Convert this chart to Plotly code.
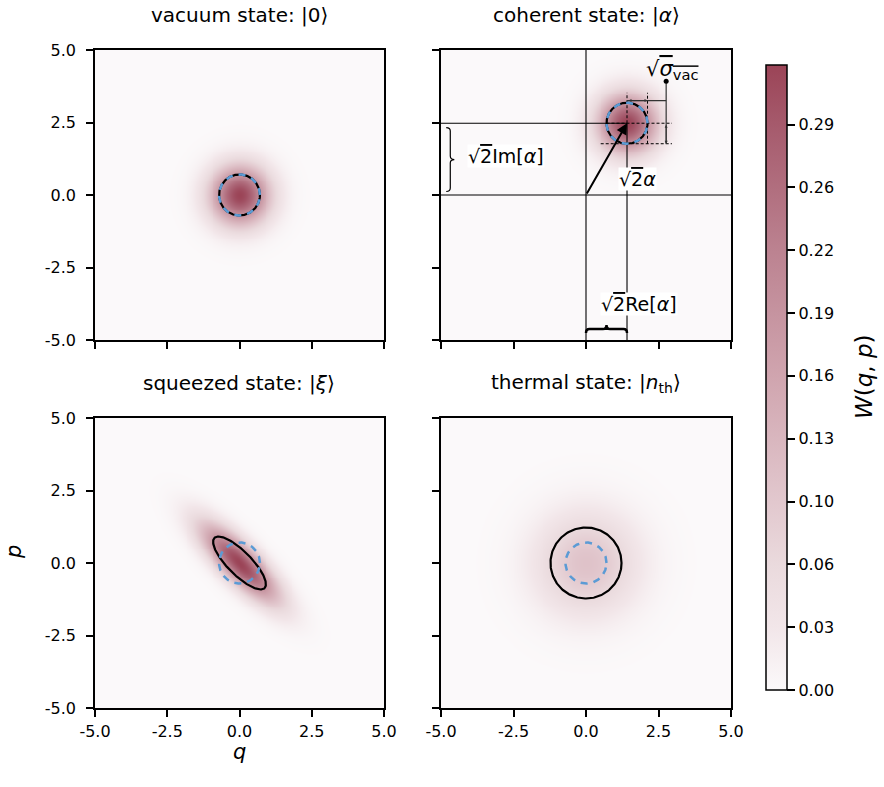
import numpy as np
import plotly.graph_objects as go

# ---------------- data ----------------
titles = ["vacuum state: |0⟩", "coherent state: |<i>α</i>⟩",
          "squeezed state: |<i>ξ</i>⟩", "thermal state: |<i>n</i><sub>th</sub>⟩"]
tick_vals = [-5.0, -2.5, 0.0, 2.5, 5.0]
tick_text = ["-5.0", "-2.5", "0.0", "2.5", "5.0"]
cbar_text = ["0.00", "0.03", "0.06", "0.10", "0.13", "0.16", "0.19", "0.22", "0.26", "0.29"]
cbar_step = 0.0320
w_max = 1 / np.pi

sigma_vac = 0.5          # vacuum variance
alpha_re, alpha_im = 1.0, 1.75   # coherent amplitude
squeeze_r = 0.55         # squeezing parameter
n_th = 1.0               # thermal occupation

# ---------------- fields ----------------
q = np.linspace(-5, 5, 301)
Q, P = np.meshgrid(q, q)
q0, p0 = np.sqrt(2) * alpha_re, np.sqrt(2) * alpha_im

W_vac = (1 / np.pi) * np.exp(-(Q**2 + P**2))
W_coh = (1 / np.pi) * np.exp(-((Q - q0)**2 + (P - p0)**2))
U = (Q - P) / np.sqrt(2)
V = (Q + P) / np.sqrt(2)
W_sq = (1 / np.pi) * np.exp(-U**2 * np.exp(-2 * squeeze_r) - V**2 * np.exp(2 * squeeze_r))
W_th = 1 / (np.pi * (2 * n_th + 1)) * np.exp(-(Q**2 + P**2) / (2 * n_th + 1))

fields = [W_vac, W_coh, W_sq, W_th]

FONT = "DejaVu Sans"
W, H = 884, 787
# panel pixel boxes (left, right, top, bottom)
boxes = [(95, 384, 50, 340), (441, 731, 50, 340), (95, 384, 418, 708), (441, 731, 418, 708)]

fig = go.Figure()
colorscale = [[0.0, "#fbf9fa"], [0.1, "#f2e6e9"], [0.2, "#eadadd"], [0.3, "#e2c8ce"],
              [0.5, "#d0a5af"], [0.7, "#bc8391"], [0.9, "#a65b6d"], [1.0, "#9b4457"]]

for i, Z in enumerate(fields):
    sfx = "" if i == 0 else str(i + 1)
    fig.add_trace(go.Heatmap(x=q, y=q, z=Z, coloraxis="coloraxis", zsmooth="best",
                             xaxis="x" + sfx, yaxis="y" + sfx, hoverinfo="skip"))

t = np.linspace(0, 2 * np.pi, 241)
rv = np.sqrt(sigma_vac)
BLUE = "#5b9bd5"


def circle(cx, cy, rx, ry=None, ang=0.0):
    ry = rx if ry is None else ry
    x = rx * np.cos(t)
    y = ry * np.sin(t)
    xr = cx + x * np.cos(ang) - y * np.sin(ang)
    yr = cy + x * np.sin(ang) + y * np.cos(ang)
    return xr, yr


def line_trace(x, y, ax, color="black", width=2, dash="solid"):
    sfx = "" if ax == 1 else str(ax)
    fig.add_trace(go.Scatter(x=x, y=y, mode="lines", xaxis="x" + sfx, yaxis="y" + sfx,
                             line=dict(color=color, width=width, dash=dash),
                             hoverinfo="skip", showlegend=False))


# vacuum
x, y = circle(0, 0, rv)
line_trace(x, y, 1, "black", 2.2)
line_trace(x, y, 1, BLUE, 2.5, "7px,6px")

# coherent: guide lines
ax2 = 2
line_trace([-5, 5], [0, 0], ax2, "black", 1.1)
line_trace([0, 0], [-5, 5], ax2, "black", 1.1)
line_trace([-5, q0], [p0, p0], ax2, "black", 1.1)
line_trace([q0, q0], [-5, p0], ax2, "black", 1.1)
xd = q0 + 1.55
line_trace([q0 - rv, xd], [p0, p0], ax2, "black", 1, "3px,2px")
line_trace([q0 - rv - 0.2, xd], [p0 - rv, p0 - rv], ax2, "black", 1, "3px,2px")
line_trace([q0, q0], [p0, p0 + 1.05], ax2, "black", 1, "3px,2px")
line_trace([q0 + rv, q0 + rv], [p0 - rv, p0 + 1.05], ax2, "black", 1, "3px,2px")
# dimension marks
xv = q0 + 1.35
yh = p0 + 0.78
line_trace([xv, xv], [p0 - rv, p0 + 1.45], ax2, "#333333", 1.2)
line_trace([q0, xv], [yh, yh], ax2, "#333333", 1.2)
fig.add_trace(go.Scatter(x=[xv], y=[p0 + 1.45], mode="markers", xaxis="x2", yaxis="y2",
                         marker=dict(color="black", size=5), hoverinfo="skip", showlegend=False))

x, y = circle(q0, p0, rv)
line_trace(x, y, ax2, "black", 2.2)
line_trace(x, y, ax2, BLUE, 2.5, "7px,6px")

# squeezed
x, y = circle(0, 0, rv * np.exp(squeeze_r), rv * np.exp(-squeeze_r), -np.pi / 4)
line_trace(x, y, 3, "black", 2.2)
x, y = circle(0, 0, rv)
line_trace(x, y, 3, BLUE, 2.5, "7px,6px")

# thermal
x, y = circle(0, 0, np.sqrt(n_th + 0.5))
line_trace(x, y, 4, "black", 2.2)
x, y = circle(0, 0, rv)
line_trace(x, y, 4, BLUE, 2.5, "7px,6px")

# ---------------- axes ----------------
layout_axes = {}
for i, (l, r, tp, b) in enumerate(boxes):
    sfx = "" if i == 0 else str(i + 1)
    common = dict(range=[-5, 5], showline=True, linecolor="black", linewidth=1.5, mirror=True,
                  ticks="outside", ticklen=7, tickwidth=1.5, tickcolor="black",
                  tickvals=tick_vals, ticktext=tick_text, showgrid=False, zeroline=False,
                  automargin=False, tickfont=dict(size=16, color="black", family=FONT))
    layout_axes["xaxis" + sfx] = dict(common, domain=[l / W, r / W], anchor="y" + sfx,
                                      showticklabels=(i >= 2), ticklabelstandoff=1)
    layout_axes["yaxis" + sfx] = dict(common, domain=[1 - b / H, 1 - tp / H], anchor="x" + sfx,
                                      showticklabels=(i % 2 == 0), ticklabelstandoff=7)

TXT = dict(family=FONT, color="black")
annotations = []
for i, (l, r, tp, b) in enumerate(boxes):
    annotations.append(dict(text=titles[i], x=(l + r) / 2 / W, y=1 - (tp - 35) / H,
                            xref="paper", yref="paper", xanchor="center", yanchor="middle",
                            showarrow=False, font=dict(size=20, **TXT)))

# axis labels and colorbar label
annotations += [
    dict(text="<i>q</i>", x=239.5 / W, y=1 - 752 / H, xref="paper", yref="paper",
         xanchor="center", yanchor="middle", showarrow=False, font=dict(size=21, **TXT)),
    dict(text="<i>p</i>", x=14 / W, y=1 - 552 / H, xref="paper", yref="paper", textangle=-90,
         xanchor="center", yanchor="middle", showarrow=False, font=dict(size=21, **TXT)),
    dict(text="<i>W</i>(<i>q</i>, <i>p</i>)", x=864 / W, y=1 - 377 / H, xref="paper",
         yref="paper", textangle=-90, xanchor="center", yanchor="middle", showarrow=False,
         font=dict(size=23, **TXT)),
]

sq2 = '√<span style="text-decoration:overline">2</span>'
annotations += [
    dict(x=q0, y=p0, ax=0, ay=0, xref="x2", yref="y2", axref="x2", ayref="y2",
         showarrow=True, arrowhead=2, arrowsize=1.1, arrowwidth=2, arrowcolor="black",
         standoff=0, text=""),
    dict(x=q0 + rv, y=yh, ax=q0, ay=yh, xref="x2", yref="y2", axref="x2", ayref="y2",
         showarrow=True, arrowhead=2, arrowside="end+start", arrowsize=0.6, arrowwidth=1,
         arrowcolor="#333333", standoff=0, text=""),
    dict(x=xv, y=p0 - rv, ax=xv, ay=p0, xref="x2", yref="y2", axref="x2", ayref="y2",
         showarrow=True, arrowhead=2, arrowside="end+start", arrowsize=0.6, arrowwidth=1,
         arrowcolor="#333333", standoff=0, text=""),
    dict(x=q0 + 0.35, y=0.55, xref="x2", yref="y2", showarrow=False, bgcolor="white",
         borderpad=0, text=sq2 + "<i>α</i>", font=dict(size=19, **TXT)),
    dict(x=q0 + 0.42, y=-3.76, xref="x2", yref="y2", showarrow=False, bgcolor="white",
         borderpad=0, text=sq2 + "Re[<i>α</i>]", font=dict(size=19, **TXT)),
    dict(x=-2.75, y=p0 / 2 + 0.1, xref="x2", yref="y2", showarrow=False, bgcolor="white",
         borderpad=0, text=sq2 + "Im[<i>α</i>]", font=dict(size=19, **TXT)),
    dict(x=xv + 0.2, y=p0 + 1.85, xref="x2", yref="y2", showarrow=False,
         text='√<span style="text-decoration:overline"><i>σ</i><sub>vac</sub></span>',
         font=dict(size=21, **TXT)),
]

# braces
yb, hb = -4.62, 0.14
m = q0 / 2
path_h = (f"M 0,{yb - hb} Q 0,{yb} 0.12,{yb} L {m - 0.12},{yb} Q {m},{yb} {m},{yb + hb} "
          f"Q {m},{yb} {m + 0.12},{yb} L {q0 - 0.12},{yb} Q {q0},{yb} {q0},{yb - hb}")
xb, wb = -4.68, 0.14
y1, y2 = 0.12, p0 - 0.15
mv = (y1 + y2) / 2
path_v = (f"M {xb - wb},{y1} Q {xb},{y1} {xb},{y1 + 0.12} L {xb},{mv - 0.12} Q {xb},{mv} {xb + wb},{mv} "
          f"Q {xb},{mv} {xb},{mv + 0.12} L {xb},{y2 - 0.12} Q {xb},{y2} {xb - wb},{y2}")
shapes = [
    dict(type="path", path=path_h, xref="x2", yref="y2", line=dict(color="black", width=2.5)),
    dict(type="path", path=path_v, xref="x2", yref="y2", line=dict(color="black", width=1.2)),
]

fig.update_layout(
    width=W, height=H, margin=dict(l=0, r=0, t=0, b=0),
    paper_bgcolor="white", plot_bgcolor="white", showlegend=False,
    font=dict(family=FONT, color="black"),
    coloraxis=dict(
        colorscale=colorscale, cmin=0, cmax=w_max,
        colorbar=dict(
            thickness=21, thicknessmode="pixels", len=625 / H, lenmode="fraction",
            x=766 / W, xanchor="left", y=1 - 377.5 / H, yanchor="middle", xpad=0, ypad=0,
            outlinewidth=1.5, outlinecolor="black", ticks="outside", ticklen=8, tickwidth=1.5,
            tickcolor="black",
            tickvals=[k * cbar_step for k in range(len(cbar_text))], ticktext=cbar_text,
            tickfont=dict(size=16, family=FONT, color="black"),
        ),
    ),
    annotations=annotations, shapes=shapes,
    **layout_axes,
)

fig.write_html("out.html")
